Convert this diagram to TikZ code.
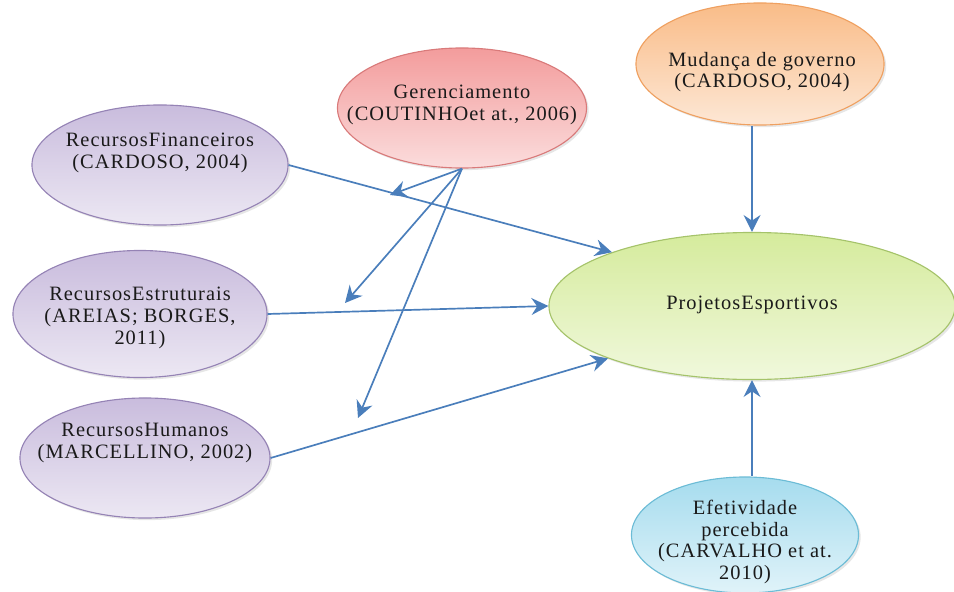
\documentclass[tikz,border=0pt]{standalone}
\usepackage{fontspec}
\setmainfont{Liberation Serif}[LetterSpace=5]
\usetikzlibrary{arrows.meta, shapes.geometric, shadows}
\definecolor{rosa}{HTML}{F39C9C}
\definecolor{rosaborda}{HTML}{D97A7A}
\definecolor{laranja}{HTML}{F9BC88}
\definecolor{laranjaborda}{HTML}{EFA060}
\definecolor{roxo}{HTML}{C9BCDD}
\definecolor{roxoborda}{HTML}{9583B5}
\definecolor{verde}{HTML}{D5EB9C}
\definecolor{verdeborda}{HTML}{A5C36A}
\definecolor{ciano}{HTML}{A6DCEE}
\definecolor{cianoborda}{HTML}{6CBCD6}
\definecolor{azulseta}{HTML}{4A7EBB}
\definecolor{tinta}{HTML}{1A1A1A}
\tikzset{
  elipse/.style 2 args={ellipse, draw=#2, thick, top color=#1, bottom color=#1!35!white,
              inner sep=0pt, drop shadow={opacity=0.2, shadow xshift=1.5pt, shadow yshift=-1.5pt}},
  texto/.style={align=center, text=tinta, font=\fontsize{14.5}{15.5}\selectfont},
  seta/.style={-{Stealth[length=12pt, width=12pt, inset=4pt]}, line width=1.2pt, azulseta},
}

\begin{document}
\begin{tikzpicture}[x=0.025cm, y=-0.025cm]
  \useasboundingbox (0,0) rectangle (954,592);
  % elipses
  \node[elipse={rosa}{rosaborda}, minimum width=6.225cm, minimum height=3cm] (ger) at (462,108) {};
  \node[elipse={laranja}{laranjaborda}, minimum width=6.2cm, minimum height=3.05cm] (mud) at (760,64) {};
  \node[elipse={roxo}{roxoborda}, minimum width=6.4cm, minimum height=3cm] (fin) at (160,165) {};
  \node[elipse={roxo}{roxoborda}, minimum width=6.35cm, minimum height=3.175cm] (est) at (140,314) {};
  \node[elipse={roxo}{roxoborda}, minimum width=6.25cm, minimum height=3cm] (hum) at (145,458) {};
  \node[elipse={verde}{verdeborda}, minimum width=10.15cm, minimum height=3.675cm] (proj) at (752,306) {};
  \node[elipse={ciano}{cianoborda}, minimum width=5.675cm, minimum height=2.9cm] (efe) at (745,535) {};
  % textos
  \node[texto] (ger-t) at (462,105) {Gerenciamento\\(COUTINHOet at., 2006)};
  \node[texto] (mud-t) at (762,72) {Mudança de governo\\(CARDOSO, 2004)};
  \node[texto] (fin-t) at (160,153) {RecursosFinanceiros\\(CARDOSO, 2004)};
  \node[texto] (est-t) at (140,318) {RecursosEstruturais\\(AREIAS; BORGES,\\2011)};
  \node[texto] (hum-t) at (145,443) {RecursosHumanos\\(MARCELLINO, 2002)};
  \node[texto] (proj-t) at (752,305) {ProjetosEsportivos};
  \node[texto] (efe-t) at (745,542) {Efetividade\\percebida\\(CARVALHO et at.\\2010)};
  % setas
  \coordinate (g1) at (390,195);
  \coordinate (g2) at (345,303);
  \coordinate (g3) at (358,418);
  \draw[seta] (fin.east) -- (proj.159);
  \draw[seta] (est.east) -- (proj.west);
  \draw[seta] (hum.east) -- (proj.200);
  \draw[seta] (proj.north |- mud.south) -- (proj.north);
  \draw[seta] (proj.south |- efe.north) -- (proj.south);
  \draw[seta] (ger.south) -- (g1);
  \draw[seta] (ger.south) -- (g2);
  \draw[seta] (ger.south) -- (g3);
\end{tikzpicture}
\end{document}
